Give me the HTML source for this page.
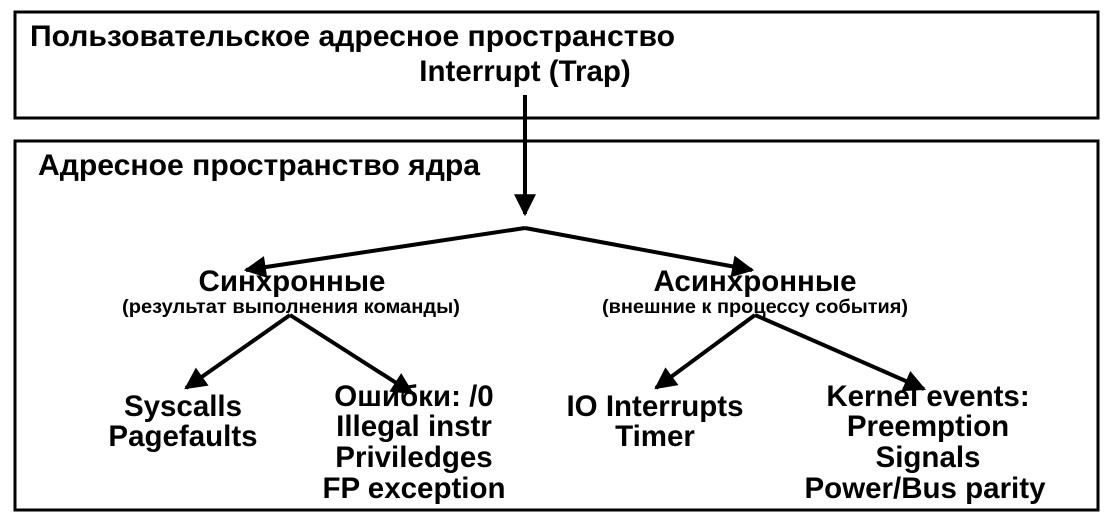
<!DOCTYPE html>
<html><head><meta charset="utf-8"><style>
body{margin:0;width:1115px;height:523px;background:#fff;overflow:hidden}
svg text{font-family:"Liberation Sans",sans-serif;font-weight:bold;fill:#000}
</style></head><body>
<svg width="1115" height="523" viewBox="0 0 1115 523">
<defs><marker id="a" viewBox="0 0 10 10" refX="9" refY="5" markerWidth="6" markerHeight="5.5" orient="auto"><path d="M0,0L10,5L0,10z" fill="#000"/></marker></defs>
<rect x="15" y="12" width="1083" height="106" fill="none" stroke="#000" stroke-width="3"/>
<rect x="15" y="141" width="1083" height="369" fill="none" stroke="#000" stroke-width="3"/>
<text x="30" y="46" font-size="29.5" textLength="645" lengthAdjust="spacingAndGlyphs">Пользовательское адресное пространство</text>
<text x="525" y="81" font-size="29.5" text-anchor="middle">Interrupt (Trap)</text>
<text x="38" y="175" font-size="29.5" textLength="442" lengthAdjust="spacingAndGlyphs">Адресное пространство ядра</text>
<g stroke="#000" stroke-width="4" fill="none">
<line x1="525" y1="95" x2="525" y2="214" marker-end="url(#a)"/>
<line x1="525" y1="228" x2="246" y2="270" marker-end="url(#a)"/>
<line x1="525" y1="228" x2="752" y2="270" marker-end="url(#a)"/>
<line x1="290" y1="315" x2="186" y2="388" marker-end="url(#a)"/>
<line x1="290" y1="315" x2="412" y2="393" marker-end="url(#a)"/>
<line x1="755" y1="315" x2="656" y2="388" marker-end="url(#a)"/>
<line x1="755" y1="315" x2="924" y2="389" marker-end="url(#a)"/>
</g>
<g font-size="29.5" text-anchor="middle">
<text x="292" y="291">Синхронные</text>
<text x="755" y="291">Асинхронные</text>
<text x="183" y="416">Syscalls</text>
<text x="183" y="446">Pagefaults</text>
<text x="414" y="406">Ошибки: /0</text>
<text x="414" y="436">Illegal instr</text>
<text x="414" y="467">Priviledges</text>
<text x="414" y="498">FP exception</text>
<text x="655" y="416">IO Interrupts</text>
<text x="655" y="446">Timer</text>
<text x="928" y="406">Kernel events:</text>
<text x="928" y="436">Preemption</text>
<text x="928" y="467">Signals</text>
<text x="925" y="498">Power/Bus parity</text>
</g>
<g font-size="19" text-anchor="middle">
<text x="291" y="313" textLength="338" lengthAdjust="spacingAndGlyphs">(результат выполнения команды)</text>
<text x="755" y="313" textLength="306" lengthAdjust="spacingAndGlyphs">(внешние к процессу события)</text>
</g>
</svg>
</body></html>
